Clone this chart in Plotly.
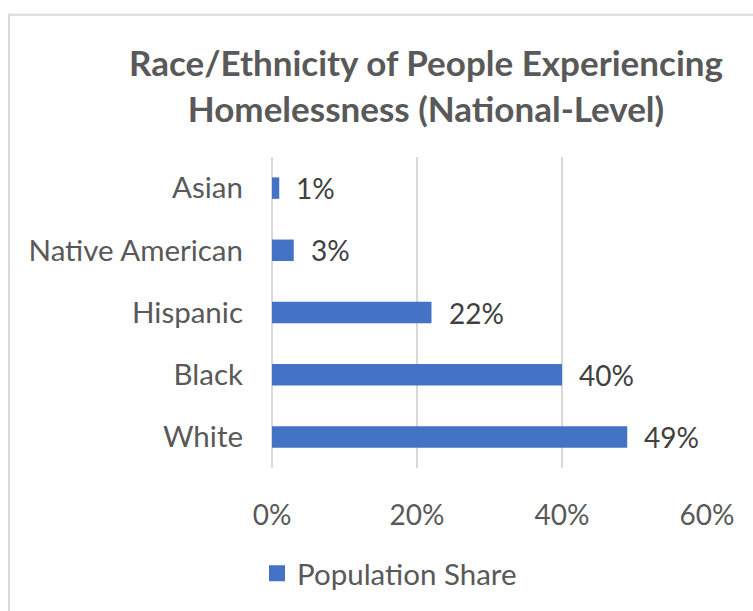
import plotly.graph_objects as go

categories = ["Asian", "Native American", "Hispanic", "Black", "White"]
shares = [0.01, 0.03, 0.22, 0.40, 0.49]
share_labels = ["1%", "3%", "22%", "40%", "49%"]
x_ticks = [0, 0.2, 0.4, 0.6]
x_tick_labels = ["0%", "20%", "40%", "60%"]
series_name = "Population Share"
title_lines = ["Race/Ethnicity of People Experiencing", "Homelessness (National-Level)"]

W, H = 753, 611
L, R, T, B = 272, 46, 157, 139
plot_w = W - L - R
plot_h = H - T - B

FONT = "Lato"
BLUE = "#4472C4"
GRID = "#d9d9d9"

fig = go.Figure()
fig.add_trace(go.Bar(
    x=shares, y=categories, orientation="h",
    marker=dict(color=BLUE, line=dict(width=0)),
    width=0.345, name=series_name, showlegend=False,
    hoverinfo="skip",
))
# legend entry for the series (larger square swatch, like the source)
fig.add_trace(go.Scatter(
    x=[None], y=[None], mode="markers", name=series_name,
    marker=dict(symbol="square", size=16, color=BLUE),
    showlegend=True, hoverinfo="skip",
))

for c, v, t in zip(categories, shares, share_labels):
    fig.add_annotation(x=v, y=c, xref="x", yref="y", text=t, showarrow=False,
                       xanchor="left", yanchor="middle", xshift=15,
                       font=dict(family=FONT, size=28, color="#404040"))

def px_to_paper_x(px):
    return (px - L) / plot_w

def px_to_paper_y(py):
    return (H - B - py) / plot_h

# chart frame (partially off-canvas, like the source)
fig.add_shape(type="rect", xref="paper", yref="paper",
              x0=px_to_paper_x(9), x1=px_to_paper_x(800),
              y0=px_to_paper_y(700), y1=px_to_paper_y(13),
              line=dict(color=GRID, width=2), fillcolor="rgba(0,0,0,0)", layer="below")

fig.update_layout(
    width=W, height=H,
    margin=dict(l=L, r=R, t=T, b=B, pad=0),
    paper_bgcolor="white", plot_bgcolor="white",
    title=dict(text="<br>".join(title_lines), xref="container", x=426 / W, xanchor="center",
               yref="container", y=1 - 76 / H, yanchor="top",
               font=dict(family=FONT, size=35, color="#595959", weight="bold")),
    xaxis=dict(range=[0, 0.6], tickvals=x_ticks, ticktext=x_tick_labels,
               showgrid=True, gridcolor=GRID, gridwidth=1.5,
               zeroline=True, zerolinecolor=GRID, zerolinewidth=1.5,
               showline=False, ticks="", ticklabelstandoff=28,
               tickfont=dict(family=FONT, size=28, color="#595959"), fixedrange=True),
    yaxis=dict(autorange="reversed", showgrid=False, showline=False, ticks="",
               ticklabelstandoff=28,
               tickfont=dict(family=FONT, size=29.5, color="#595959"), fixedrange=True),
    legend=dict(orientation="h", x=px_to_paper_x(257), xanchor="left",
                y=px_to_paper_y(579), yanchor="middle",
                font=dict(family=FONT, size=29.5, color="#595959"),
                bgcolor="rgba(0,0,0,0)"),
    showlegend=True,
)

fig.write_html("out.html", config={"displayModeBar": False},
               post_script="document.body.style.margin='0';")
